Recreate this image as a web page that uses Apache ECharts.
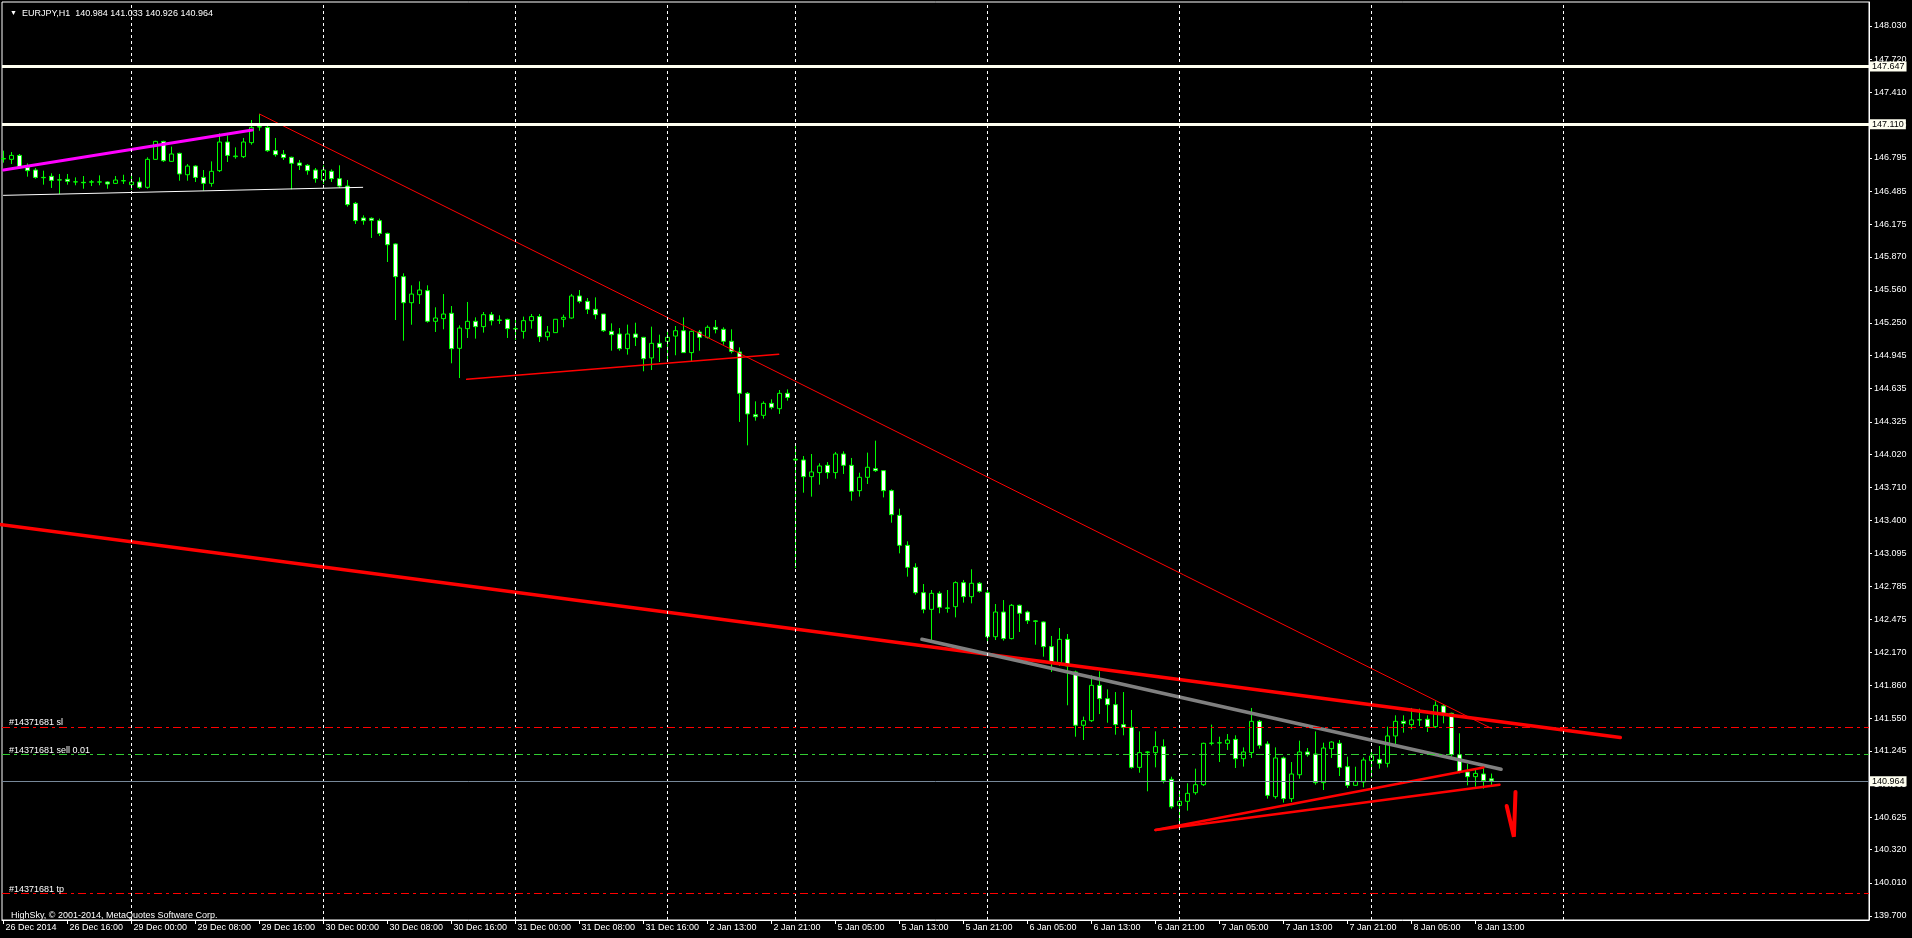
<!DOCTYPE html>
<html>
<head>
<meta charset="utf-8">
<title>EURJPY,H1</title>
<script src="https://cdn.jsdelivr.net/npm/echarts/dist/echarts.min.js"></script>
<style>
  html, body { margin: 0; padding: 0; background: #000; }
  #chart { width: 1912px; height: 938px; }
</style>
</head>
<body>
<div id="chart"></div>
<script>
// ---------------- DATA ----------------
const opens = [
146.785,146.782,146.819,146.707,146.682,146.613,146.623,146.590,146.595,146.570,
146.567,146.568,146.571,146.570,146.557,146.580,146.545,146.570,146.520,146.782,
146.950,146.763,146.838,146.638,146.719,146.613,146.557,146.676,146.944,146.807,
146.807,146.938,147.087,147.081,146.863,146.829,146.801,146.748,146.726,146.682,
146.588,146.670,146.601,146.532,146.370,146.233,146.230,146.208,146.089,145.990,
145.684,145.440,145.515,145.553,145.266,145.291,145.341,145.013,145.197,145.266,
145.216,145.328,145.278,145.284,145.197,145.172,145.272,145.310,145.122,145.160,
145.285,145.297,145.503,145.453,145.378,145.334,145.172,145.147,145.010,145.147,
145.116,144.923,145.060,145.079,145.128,145.178,144.973,145.166,145.116,145.210,
145.191,145.079,144.979,144.592,144.392,144.386,144.498,144.448,144.592,143.975,
143.968,143.812,143.850,143.918,143.850,144.024,143.918,143.681,143.806,143.887,
143.868,143.681,143.450,143.169,142.963,142.726,142.570,142.720,142.583,142.595,
142.820,142.689,142.814,142.726,142.314,142.545,142.296,142.608,142.545,142.462,
142.452,142.221,142.071,142.289,141.984,141.485,141.528,141.859,141.734,141.678,
141.491,141.466,141.091,141.235,141.229,141.285,140.979,140.735,140.773,140.854,
140.929,141.316,141.319,141.316,141.353,141.172,141.229,141.522,141.310,140.817,
141.179,140.798,141.022,141.235,141.216,140.948,141.266,141.316,141.097,140.923,
140.954,141.154,141.166,141.129,141.385,141.522,141.491,141.535,141.541,141.472,
141.666,141.597,141.210,141.048,141.004,141.029,140.984
];
const highs = [
146.863,146.850,146.832,146.744,146.701,146.676,146.651,146.645,146.645,146.613,
146.626,146.589,146.632,146.576,146.626,146.638,146.645,146.613,146.801,146.956,
146.956,146.901,146.844,146.738,146.726,146.682,146.763,147.025,147.006,146.894,
146.982,147.150,147.206,147.094,146.982,146.869,146.807,146.776,146.738,146.701,
146.726,146.688,146.726,146.589,146.383,146.258,146.239,146.227,146.096,145.996,
145.715,145.603,145.640,145.603,145.397,145.521,145.409,145.228,145.447,145.303,
145.353,145.353,145.322,145.291,145.291,145.310,145.334,145.334,145.222,145.285,
145.328,145.522,145.559,145.484,145.490,145.334,145.247,145.203,145.235,145.253,
145.120,145.216,145.141,145.166,145.222,145.303,145.178,145.185,145.228,145.278,
145.210,145.191,145.022,144.604,144.517,144.517,144.536,144.623,144.629,144.105,
144.005,144.024,143.937,143.949,144.043,144.049,143.987,143.849,144.037,144.149,
143.874,143.693,143.512,143.207,143.001,142.807,142.751,142.739,142.751,142.832,
142.845,142.945,142.826,142.763,142.620,142.657,142.620,142.614,142.558,142.470,
142.458,142.321,142.395,142.339,141.996,141.566,141.952,141.990,141.821,141.796,
141.796,141.628,141.428,141.241,141.428,141.353,141.004,140.879,140.942,141.079,
141.322,141.491,141.378,141.403,141.391,141.278,141.647,141.535,141.335,141.278,
141.191,141.141,141.341,141.272,141.428,141.322,141.335,141.347,141.191,141.097,
141.185,141.254,141.291,141.472,141.578,141.578,141.647,141.641,141.578,141.709,
141.684,141.603,141.410,141.123,141.073,141.097,141.033
];
const lows = [
146.751,146.738,146.701,146.620,146.601,146.545,146.514,146.457,146.545,146.539,
146.507,146.532,146.539,146.507,146.551,146.551,146.495,146.507,146.507,146.776,
146.757,146.757,146.582,146.582,146.570,146.489,146.526,146.663,146.757,146.788,
146.794,146.919,147.050,146.851,146.807,146.776,146.501,146.682,146.638,146.563,
146.551,146.570,146.514,146.339,146.177,146.170,146.046,146.064,145.821,145.278,
145.085,145.234,145.428,145.253,145.166,145.191,144.873,144.735,145.110,145.104,
145.160,145.228,145.241,145.110,145.091,145.104,145.197,145.072,145.085,145.160,
145.210,145.291,145.434,145.334,145.285,145.166,144.991,144.991,144.954,145.035,
144.798,144.810,144.885,144.898,144.948,144.973,144.885,144.991,145.104,145.153,
145.047,144.966,144.324,144.105,144.336,144.355,144.442,144.399,144.523,142.957,
143.662,143.625,143.737,143.793,143.793,143.837,143.587,143.625,143.743,143.856,
143.618,143.381,143.094,142.876,142.707,142.533,142.283,142.533,142.539,142.495,
142.633,142.626,142.726,142.246,142.283,142.277,142.289,142.358,142.433,142.239,
142.127,141.984,142.040,141.672,141.378,141.347,141.516,141.590,141.509,141.397,
141.391,141.079,141.041,140.867,141.091,140.942,140.704,140.536,140.686,140.835,
140.917,141.297,141.141,141.254,141.085,141.098,141.179,141.266,140.798,140.798,
140.761,140.767,140.985,141.191,140.929,140.879,141.179,141.010,140.898,140.917,
140.904,140.998,141.079,141.091,141.310,141.416,141.447,141.478,141.422,141.459,
141.503,141.191,141.035,140.923,140.910,140.892,140.926
];
const closes = [
146.790,146.819,146.713,146.676,146.613,146.610,146.585,146.588,146.576,146.572,
146.563,146.572,146.569,146.551,146.588,146.583,146.570,146.520,146.782,146.950,
146.769,146.832,146.645,146.719,146.613,146.557,146.670,146.944,146.819,146.813,
146.944,147.081,147.085,146.863,146.826,146.798,146.745,146.726,146.676,146.601,
146.682,146.601,146.532,146.358,146.208,146.208,146.211,146.089,145.983,145.684,
145.440,145.521,145.559,145.266,145.297,145.334,145.010,145.203,145.266,145.216,
145.328,145.272,145.275,145.197,145.194,145.272,145.310,145.122,145.166,145.285,
145.303,145.503,145.453,145.378,145.328,145.178,145.141,145.010,145.147,145.116,
144.916,145.060,145.022,145.116,145.178,144.973,145.172,145.116,145.210,145.191,
145.079,144.985,144.592,144.399,144.373,144.498,144.461,144.592,144.554,143.968,
143.812,143.856,143.912,143.850,144.024,143.918,143.675,143.806,143.900,143.868,
143.681,143.456,143.169,142.963,142.726,142.570,142.720,142.589,142.580,142.820,
142.689,142.814,142.739,142.314,142.545,142.296,142.608,142.533,142.464,142.458,
142.221,142.071,142.289,142.040,141.485,141.528,141.859,141.734,141.678,141.491,
141.466,141.091,141.229,141.232,141.285,140.967,140.722,140.773,140.848,140.929,
141.316,141.318,141.322,141.347,141.172,141.235,141.522,141.297,140.829,141.179,
140.798,141.029,141.235,141.210,140.948,141.272,141.328,141.091,140.923,140.960,
141.160,141.197,141.129,141.385,141.522,141.503,141.535,141.537,141.472,141.672,
141.597,141.210,141.054,141.004,141.035,140.967,140.964
];

// x-axis tick labels (one every 8 hourly bars)
const xTickLabels = [
'26 Dec 2014','26 Dec 16:00','29 Dec 00:00','29 Dec 08:00','29 Dec 16:00',
'30 Dec 00:00','30 Dec 08:00','30 Dec 16:00','31 Dec 00:00','31 Dec 08:00',
'31 Dec 16:00','2 Jan 13:00','2 Jan 21:00','5 Jan 05:00','5 Jan 13:00',
'5 Jan 21:00','6 Jan 05:00','6 Jan 13:00','6 Jan 21:00','7 Jan 05:00',
'7 Jan 13:00','7 Jan 21:00','8 Jan 05:00','8 Jan 13:00'
];
const xTickStep = 8;
// y-axis price tick labels
const yTickValues = [
148.030,147.720,147.410,147.105,146.795,146.485,146.175,145.870,145.560,145.250,
144.945,144.635,144.325,144.020,143.710,143.400,143.095,142.785,142.475,142.170,
141.860,141.550,141.245,140.935,140.625,140.320,140.010,139.700
];
// bar index of day separators
const daySeparators = [16, 40, 64, 83, 99, 123, 147, 171, 195];

// horizontal price levels
const whiteLevels = [147.647, 147.110];
const bidPrice = 140.964;
const orderId = '#14371681';
const orderSL = 141.465;
const orderEntry = 141.205;
const orderTP = 139.905;

// drawn trend lines: [bar index, price]
const trendMagenta = [[0, 146.683], [31.1, 147.057]];
const trendWhite   = [[0, 146.445], [44.9, 146.520]];
const trendPeak    = [[32, 147.206], [186, 141.456]];
const trendChannel = [[57.9, 144.723], [96.9, 144.957]];
const trendLong    = [[-1, 143.369], [202.1, 141.370]];
const trendGrey    = [[114.8, 142.290], [187.2, 141.073]];
const trendLowA    = [[144.0, 140.505], [185.0, 141.090]];
const trendLowB    = [[144.0, 140.505], [187.0, 140.929]];
const arrowMark    = [[187.9, 140.729], [188.8, 140.442], [189.0, 140.861]];

// ---------------- CHART ----------------
const FONT = 'Liberation Sans, Arial, sans-serif';
const candleData = opens.map((o, i) => [i, o, closes[i], lows[i], highs[i]]);
const xTickPos = xTickLabels.map((_, i) => i * xTickStep);

function trend(data, color, width, extra) {
  return Object.assign({
    type: 'line', data: data, symbol: 'none', silent: true, z: 3,
    lineStyle: { color: color, width: width, cap: 'round' },
    animation: false
  }, extra || {});
}

const boxLabel = (txt) => ({
  show: true, position: 'end', formatter: txt, distance: 1,
  backgroundColor: '#FFFFF0', color: '#000', padding: [1, 2, 0, 2],
  fontSize: 9, fontFamily: FONT
});
const leftLabel = (txt) => ({
  show: true, position: 'insideStartTop', formatter: txt, distance: [7, 0],
  color: '#fff', fontSize: 9, fontFamily: FONT
});

const option = {
  backgroundColor: '#000',
  animation: false,
  title: [
    {
      left: 5, top: 4,
      text: '{t|▼}  EURJPY,H1  140.984 141.033 140.926 140.964',
      textStyle: { color: '#fff', fontSize: 9, fontFamily: FONT, fontWeight: 'normal',
        rich: { t: { fontSize: 7, color: '#fff' } } }
    },
    {
      left: 6, top: 906,
      text: 'HighSky, © 2001-2014, MetaQuotes Software Corp.',
      textStyle: { color: '#fff', fontSize: 9, fontFamily: FONT, fontWeight: 'normal' }
    }
  ],
  grid: {
    left: 2, right: 43, top: 2, bottom: 18,
    show: true, borderColor: '#fff', borderWidth: 1, backgroundColor: '#000'
  },
  xAxis: {
    type: 'value', min: -0.1875, max: 233.1875,
    splitLine: { show: false },
    axisLine: { show: true, onZero: false, lineStyle: { color: '#fff', width: 1 } },
    axisTick: { show: true, customValues: xTickPos, length: 4, lineStyle: { color: '#fff' } },
    axisLabel: {
      customValues: xTickPos,
      formatter: (v) => xTickLabels[Math.round(v / xTickStep)],
      color: '#fff', fontSize: 9, fontFamily: FONT, align: 'left', margin: 3,
      padding: [0, 0, 0, 2]
    }
  },
  yAxis: {
    type: 'value', position: 'right', min: 139.6624, max: 148.2546,
    splitLine: { show: false },
    axisLine: { show: true, onZero: false, lineStyle: { color: '#fff', width: 1 } },
    axisTick: { show: true, customValues: yTickValues, length: 3, lineStyle: { color: '#fff' } },
    axisLabel: {
      customValues: yTickValues,
      formatter: (v) => v.toFixed(3),
      color: '#fff', fontSize: 9, fontFamily: FONT, margin: 5
    }
  },
  series: [
    // day separators
    {
      type: 'line', data: [[-10, 100]], symbol: 'none', silent: true, z: 1,
      lineStyle: { opacity: 0 },
      markLine: {
        silent: true, symbol: ['none', 'none'], animation: false,
        label: { show: false },
        lineStyle: { color: '#fff', type: [3, 3], width: 1 },
        data: daySeparators.map(k => ({ xAxis: k }))
      }
    },
    // candles
    {
      type: 'candlestick', z: 2, data: candleData,
      encode: { x: 0, y: [1, 2, 3, 4] },
      barWidth: 4,
      itemStyle: {
        color: '#000000', color0: '#FFFFFF',
        borderColor: '#00FF00', borderColor0: '#00FF00', borderColorDoji: '#00FF00',
        borderWidth: 1
      },
      silent: true
    },
    // trend lines
    trend(trendMagenta, '#FF00FF', 3),
    trend(trendWhite, '#FFFFFF', 1),
    trend(trendPeak, '#FF0000', 1),
    trend(trendChannel, '#FF0000', 1.5),
    trend(trendLong, '#FF0000', 3.5),
    trend(trendGrey, '#808080', 3.5),
    trend(trendLowA, '#FF0000', 2.5),
    trend(trendLowB, '#FF0000', 2.5),
    trend(arrowMark, '#FF0000', 4),
    // price levels
    {
      type: 'line', data: [[-10, 100]], symbol: 'none', silent: true, z: 4,
      lineStyle: { opacity: 0 },
      markLine: {
        silent: true, symbol: ['none', 'none'], animation: false,
        data: [
          { yAxis: whiteLevels[0], lineStyle: { color: '#FFFFF0', width: 3, type: 'solid' },
            label: boxLabel(whiteLevels[0].toFixed(3)) },
          { yAxis: whiteLevels[1], lineStyle: { color: '#FFFFF0', width: 3, type: 'solid' },
            label: boxLabel(whiteLevels[1].toFixed(3)) },
          { yAxis: orderSL, lineStyle: { color: '#FF0000', width: 1, type: [8, 4, 3, 4] },
            label: leftLabel(orderId + ' sl') },
          { yAxis: orderEntry, lineStyle: { color: '#32CD32', width: 1, type: [8, 4, 3, 4] },
            label: leftLabel(orderId + ' sell 0.01') },
          { yAxis: orderTP, lineStyle: { color: '#FF0000', width: 1, type: [8, 4, 3, 4] },
            label: leftLabel(orderId + ' tp') },
          { yAxis: bidPrice, lineStyle: { color: '#778899', width: 1, type: 'solid' },
            label: boxLabel(bidPrice.toFixed(3)) }
        ]
      }
    }
  ]
};

const chart = echarts.init(document.getElementById('chart'), null, { renderer: 'canvas' });
chart.setOption(option);
</script>
</body>
</html>
